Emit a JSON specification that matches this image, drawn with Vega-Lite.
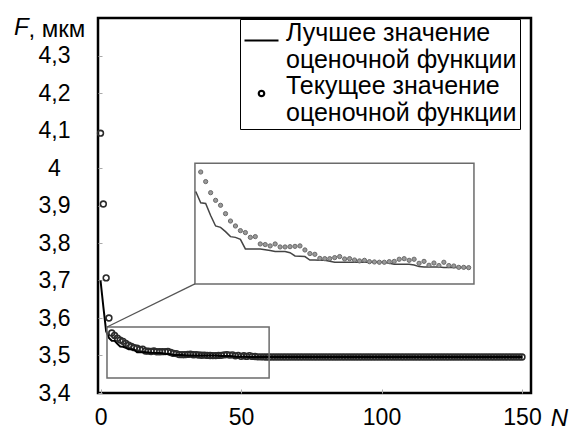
{
  "$schema": "https://vega.github.io/schema/vega-lite/v6.json",
  "width": 433,
  "height": 375,
  "autosize": "none",
  "padding": {"left": 98, "top": 18, "right": 45, "bottom": 35},
  "background": "white",
  "title": {"text": "F", "font": "Liberation Sans", "fontStyle": "italic", "fontWeight": "normal", "fontSize": 24, "color": "black", "anchor": "start", "frame": "group", "dx": -84, "offset": 0, "dy": 42, "baseline": "alphabetic"},
  "config": {
    "font": "Liberation Sans",
    "view": {"stroke": "black", "strokeWidth": 2.5},
    "axis": {"grid": false, "domain": false, "labelFont": "Liberation Sans", "titleFont": "Liberation Sans", "labelColor": "black", "titleColor": "black", "titleFontWeight": "normal", "labelFontSize": 23, "titleFontSize": 24, "tickColor": "#aaaaaa", "tickWidth": 1}
  },
  "datasets": {
    "series": [
      {"N":0,"cur":4.093,"best":3.700},{"N":1,"cur":3.904,"best":3.630},{"N":2,"cur":3.707,"best":3.565},{"N":3,"cur":3.600,"best":3.547},
      {"N":4,"cur":3.560,"best":3.5395},{"N":5,"cur":3.5536,"best":3.539},{"N":6,"cur":3.5462,"best":3.531},{"N":7,"cur":3.5411,"best":3.524},
      {"N":8,"cur":3.5378,"best":3.5231},{"N":9,"cur":3.5322,"best":3.5202},{"N":10,"cur":3.5273,"best":3.5169},{"N":11,"cur":3.524,"best":3.5164},
      {"N":12,"cur":3.5209,"best":3.5151},{"N":13,"cur":3.5196,"best":3.5087},{"N":14,"cur":3.5164,"best":3.5087},{"N":15,"cur":3.5169,"best":3.5087},
      {"N":16,"cur":3.512,"best":3.5087},{"N":17,"cur":3.5116,"best":3.5082},{"N":18,"cur":3.5107,"best":3.5076},{"N":19,"cur":3.512,"best":3.507},
      {"N":20,"cur":3.51,"best":3.5069},{"N":21,"cur":3.51,"best":3.5069},{"N":22,"cur":3.5102,"best":3.5062},{"N":23,"cur":3.5104,"best":3.504},
      {"N":24,"cur":3.5107,"best":3.5038},{"N":25,"cur":3.508,"best":3.5036},{"N":26,"cur":3.5056,"best":3.5013},{"N":27,"cur":3.5051,"best":3.5013},
      {"N":28,"cur":3.5024,"best":3.5012},{"N":29,"cur":3.5022,"best":3.5011},{"N":30,"cur":3.5022,"best":3.5005},{"N":31,"cur":3.5029,"best":3.4998},
      {"N":32,"cur":3.5036,"best":3.4998},{"N":33,"cur":3.502,"best":3.4998},{"N":34,"cur":3.5022,"best":3.4998},{"N":35,"cur":3.5013,"best":3.4998},
      {"N":36,"cur":3.5007,"best":3.4998},{"N":37,"cur":3.5011,"best":3.4998},{"N":38,"cur":3.5002,"best":3.4998},{"N":39,"cur":3.5,"best":3.4998},
      {"N":40,"cur":3.4998,"best":3.4998},{"N":41,"cur":3.4998,"best":3.4998},{"N":42,"cur":3.5002,"best":3.4991},{"N":43,"cur":3.5004,"best":3.4984},
      {"N":44,"cur":3.5018,"best":3.4984},{"N":45,"cur":3.5022,"best":3.4984},{"N":46,"cur":3.5011,"best":3.4984},{"N":47,"cur":3.5018,"best":3.498},
      {"N":48,"cur":3.4991,"best":3.4969},{"N":49,"cur":3.5004,"best":3.4967},{"N":50,"cur":3.4978,"best":3.4967},{"N":51,"cur":3.4993,"best":3.4967},
      {"N":52,"cur":3.4976,"best":3.4967},{"N":53,"cur":3.4998,"best":3.4963},{"N":54,"cur":3.4976,"best":3.4963},{"N":55,"cur":3.4973,"best":3.4963},
      {"N":56,"cur":3.4964,"best":3.4963},{"N":57,"cur":3.4964,"best":3.4963},{"N":58,"cur":3.4962,"best":3.4962},
      {"N":59,"cur":3.496,"best":3.496},{"N":60,"cur":3.496,"best":3.496},{"N":61,"cur":3.496,"best":3.496},{"N":62,"cur":3.496,"best":3.496},
      {"N":63,"cur":3.496,"best":3.496},{"N":64,"cur":3.496,"best":3.496},{"N":65,"cur":3.496,"best":3.496},{"N":66,"cur":3.496,"best":3.496},
      {"N":67,"cur":3.496,"best":3.496},{"N":68,"cur":3.496,"best":3.496},{"N":69,"cur":3.496,"best":3.496},{"N":70,"cur":3.496,"best":3.496},
      {"N":71,"cur":3.496,"best":3.496},{"N":72,"cur":3.496,"best":3.496},{"N":73,"cur":3.496,"best":3.496},{"N":74,"cur":3.496,"best":3.496},
      {"N":75,"cur":3.496,"best":3.496},{"N":76,"cur":3.496,"best":3.496},{"N":77,"cur":3.496,"best":3.496},{"N":78,"cur":3.496,"best":3.496},
      {"N":79,"cur":3.496,"best":3.496},{"N":80,"cur":3.496,"best":3.496},{"N":81,"cur":3.496,"best":3.496},{"N":82,"cur":3.496,"best":3.496},
      {"N":83,"cur":3.496,"best":3.496},{"N":84,"cur":3.496,"best":3.496},{"N":85,"cur":3.496,"best":3.496},{"N":86,"cur":3.496,"best":3.496},
      {"N":87,"cur":3.496,"best":3.496},{"N":88,"cur":3.496,"best":3.496},{"N":89,"cur":3.496,"best":3.496},{"N":90,"cur":3.496,"best":3.496},
      {"N":91,"cur":3.496,"best":3.496},{"N":92,"cur":3.496,"best":3.496},{"N":93,"cur":3.496,"best":3.496},{"N":94,"cur":3.496,"best":3.496},
      {"N":95,"cur":3.496,"best":3.496},{"N":96,"cur":3.496,"best":3.496},{"N":97,"cur":3.496,"best":3.496},{"N":98,"cur":3.496,"best":3.496},
      {"N":99,"cur":3.496,"best":3.496},{"N":100,"cur":3.496,"best":3.496},{"N":101,"cur":3.496,"best":3.496},{"N":102,"cur":3.496,"best":3.496},
      {"N":103,"cur":3.496,"best":3.496},{"N":104,"cur":3.496,"best":3.496},{"N":105,"cur":3.496,"best":3.496},{"N":106,"cur":3.496,"best":3.496},
      {"N":107,"cur":3.496,"best":3.496},{"N":108,"cur":3.496,"best":3.496},{"N":109,"cur":3.496,"best":3.496},{"N":110,"cur":3.496,"best":3.496},
      {"N":111,"cur":3.496,"best":3.496},{"N":112,"cur":3.496,"best":3.496},{"N":113,"cur":3.496,"best":3.496},{"N":114,"cur":3.496,"best":3.496},
      {"N":115,"cur":3.496,"best":3.496},{"N":116,"cur":3.496,"best":3.496},{"N":117,"cur":3.496,"best":3.496},{"N":118,"cur":3.496,"best":3.496},
      {"N":119,"cur":3.496,"best":3.496},{"N":120,"cur":3.496,"best":3.496},{"N":121,"cur":3.496,"best":3.496},{"N":122,"cur":3.496,"best":3.496},
      {"N":123,"cur":3.496,"best":3.496},{"N":124,"cur":3.496,"best":3.496},{"N":125,"cur":3.496,"best":3.496},{"N":126,"cur":3.496,"best":3.496},
      {"N":127,"cur":3.496,"best":3.496},{"N":128,"cur":3.496,"best":3.496},{"N":129,"cur":3.496,"best":3.496},{"N":130,"cur":3.496,"best":3.496},
      {"N":131,"cur":3.496,"best":3.496},{"N":132,"cur":3.496,"best":3.496},{"N":133,"cur":3.496,"best":3.496},{"N":134,"cur":3.496,"best":3.496},
      {"N":135,"cur":3.496,"best":3.496},{"N":136,"cur":3.496,"best":3.496},{"N":137,"cur":3.496,"best":3.496},{"N":138,"cur":3.496,"best":3.496},
      {"N":139,"cur":3.496,"best":3.496},{"N":140,"cur":3.496,"best":3.496},{"N":141,"cur":3.496,"best":3.496},{"N":142,"cur":3.496,"best":3.496},
      {"N":143,"cur":3.496,"best":3.496},{"N":144,"cur":3.496,"best":3.496},{"N":145,"cur":3.496,"best":3.496},{"N":146,"cur":3.496,"best":3.496},
      {"N":147,"cur":3.496,"best":3.496},{"N":148,"cur":3.496,"best":3.496},{"N":149,"cur":3.496,"best":3.496},{"N":150,"cur":3.496,"best":3.496}
    ],
    "boxes": [
      {"N": 2.3, "N2": 60, "F": 3.44, "F2": 3.576},
      {"N": 33.6, "N2": 132.9, "F": 3.691, "F2": 4.013}
    ],
    "connector": [
      {"N": 2.3, "N2": 33.6, "F": 3.576, "F2": 3.691}
    ]
  },
  "layer": [
    {
      "layer": [
        {
          "data": {"name": "series"},
          "mark": {"type": "point", "filled": false, "stroke": "#2b2b2b", "strokeWidth": 1.6, "size": 1300, "opacity": 1},
          "encoding": {
            "x": {"field": "N", "type": "quantitative", "scale": {"domain": [-0.9, 153.2], "nice": false, "zero": false},
                  "axis": {"title": "N", "titleFontStyle": "italic", "values": [0, 50, 100, 150], "format": "d", "labelPadding": 17, "tickSize": -4, "titleX": 461, "titleY": 32, "titleBaseline": "alphabetic", "titleAlign": "center"}},
            "y": {"field": "cur", "type": "quantitative", "scale": {"domain": [3.4, 4.4], "nice": false, "zero": false},
                  "axis": {"title": ", мкм", "titleAngle": 0, "titleAlign": "left", "titleBaseline": "alphabetic", "titleX": -70, "titleY": 18, "values": [3.4, 3.5, 3.6, 3.7, 3.8, 3.9, 4.0, 4.1, 4.2, 4.3], "labelExpr": "replace(format(datum.value, '.1~f'), '.', ',')", "labelAlign": "center", "labelBaseline": "middle", "labelPadding": 48, "tickSize": -4}},
            "shape": {
              "datum": "Текущее значение оценочной функции",
              "scale": {"domain": ["Лучшее значение оценочной функции", "Текущее значение оценочной функции"], "range": ["M-1,0L1,0", "M-0.16,0A0.16,0.16,0,1,0,0.16,0A0.16,0.16,0,1,0,-0.16,0Z"]},
              "legend": {"orient": "none", "legendX": 142, "legendY": 1, "title": null, "strokeColor": "black", "fillColor": "white", "padding": 3, "symbolSize": 1156, "symbolStrokeWidth": 2.2, "symbolStrokeColor": "black", "symbolFillColor": "white", "symbolOpacity": 1, "labelFont": "Liberation Sans", "labelFontSize": 25, "labelColor": "black", "labelBaseline": "alphabetic", "labelOffset": 6, "labelLimit": 400, "rowPadding": 0, "labelExpr": "[slice(datum.label, 0, indexof(datum.label, ' оценочной')), 'оценочной функции\u00a0\u00a0\u00a0\u00a0\u00a0']"}
            }
          }
        },
        {
          "data": {"name": "series"},
          "mark": {"type": "line", "color": "black", "strokeWidth": 2},
          "encoding": {
            "x": {"field": "N", "type": "quantitative"},
            "y": {"field": "best", "type": "quantitative"}
          }
        },
        {
          "data": {"name": "boxes"},
          "mark": {"type": "rect", "fill": null, "fillOpacity": 0, "stroke": "#6b6b6b", "strokeWidth": 1.5},
          "encoding": {
            "x": {"field": "N", "type": "quantitative"},
            "x2": {"field": "N2"},
            "y": {"field": "F", "type": "quantitative"},
            "y2": {"field": "F2"}
          }
        },
        {
          "data": {"name": "connector"},
          "mark": {"type": "rule", "stroke": "#555555", "strokeWidth": 1.3},
          "encoding": {
            "x": {"field": "N", "type": "quantitative"},
            "x2": {"field": "N2"},
            "y": {"field": "F", "type": "quantitative"},
            "y2": {"field": "F2"}
          }
        }
      ]
    },
    {
      "data": {"name": "series"},
      "transform": [{"filter": "datum.N >= 3 && datum.N <= 58"}],
      "layer": [
        {
          "mark": {"type": "line", "color": "#444444", "strokeWidth": 1.5},
          "encoding": {
            "x": {"field": "N", "type": "quantitative", "scale": {"domain": [2.85, 59.07], "range": [97, 376], "nice": false, "zero": false}, "axis": null},
            "y": {"field": "best", "type": "quantitative", "scale": {"domain": [3.4853, 3.566], "range": [266, 145], "nice": false, "zero": false}, "axis": null}
          }
        },
        {
          "transform": [{"filter": "datum.N >= 4"}],
          "mark": {"type": "point", "filled": true, "fill": "#999999", "stroke": "#6a6a6a", "strokeWidth": 1, "size": 18, "opacity": 1},
          "encoding": {
            "x": {"field": "N", "type": "quantitative"},
            "y": {"field": "cur", "type": "quantitative"}
          }
        }
      ]
    }
  ],
  "resolve": {"scale": {"x": "independent", "y": "independent"}}
}
